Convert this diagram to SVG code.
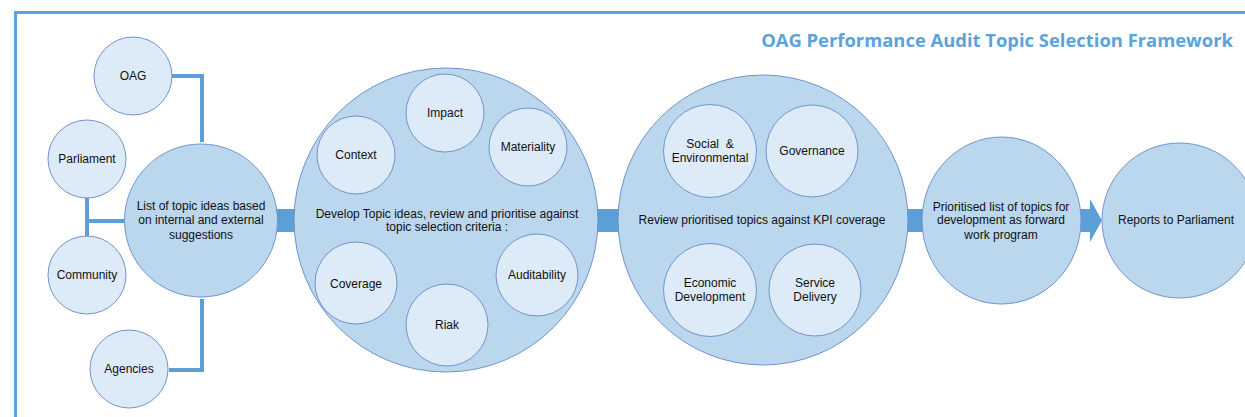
<svg xmlns="http://www.w3.org/2000/svg" width="1245" height="417" viewBox="0 0 1245 417">
  <style>
    .frame { fill: none; stroke: #5aa3db; stroke-width: 3; }
    .title { font-family: "Open Sans", "Liberation Sans", sans-serif; font-weight: 700; font-size: 18.4px; fill: #5aa3db; }
    .big { fill: #bad7ee; stroke: #7193cd; stroke-width: 1; }
    .small { fill: #ddeaf7; stroke: #7193cd; stroke-width: 1; }
    .lbl { font-family: "Liberation Sans", Arial, sans-serif; font-size: 12px; fill: #111; text-anchor: middle; }
    .link { fill: none; stroke: #5b9fd6; stroke-width: 4; stroke-linejoin: miter; }
    .band { fill: #5b9fd6; }
  </style>

  <!-- page frame -->
  <path class="frame" d="M15.5,417 V12.5 H1245"/>
  <text class="title" x="1233" y="47" text-anchor="end">OAG Performance Audit Topic Selection Framework</text>

  <!-- connectors -->
  <g id="connectors">
    <path class="link" d="M171,76 H202 V142"/>
    <path class="link" d="M87,198 V237"/>
    <path class="link" d="M87,221 H127"/>
    <path class="link" d="M169,370 H202 V299"/>
    <rect class="band" x="275" y="209" width="24" height="23"/>
    <rect class="band" x="594" y="209" width="26" height="23"/>
    <rect class="band" x="906" y="209" width="18" height="23"/>
    <path class="band" d="M1079,209 H1090 V199 L1102,220.5 L1090,242 V232 H1079 Z"/>
  </g>

  <!-- sources -->
  <g id="oag"><circle class="small" cx="133" cy="76" r="39"/><text class="lbl" x="133" y="80">OAG</text></g>
  <g id="parliament"><circle class="small" cx="87" cy="159" r="39"/><text class="lbl" x="87" y="163">Parliament</text></g>
  <g id="community"><circle class="small" cx="87" cy="275" r="39"/><text class="lbl" x="87" y="279">Community</text></g>
  <g id="agencies"><circle class="small" cx="129" cy="369" r="39"/><text class="lbl" x="129" y="373">Agencies</text></g>

  <!-- topic ideas list -->
  <g id="topic-list">
    <circle class="big" cx="201" cy="220.5" r="76.5"/>
    <text class="lbl" x="201" y="210">List of topic ideas based</text>
    <text class="lbl" x="201" y="224">on internal and external</text>
    <text class="lbl" x="201" y="239">suggestions</text>
  </g>

  <!-- selection criteria -->
  <g id="develop">
    <circle class="big" cx="446" cy="220" r="152"/>
    <text class="lbl" x="447" y="218">Develop Topic ideas, review and prioritise against</text>
    <text class="lbl" x="447" y="231">topic selection criteria :</text>
  </g>
  <g id="impact"><circle class="small" cx="445" cy="113" r="39"/><text class="lbl" x="445" y="117">Impact</text></g>
  <g id="materiality"><circle class="small" cx="528" cy="147" r="39"/><text class="lbl" x="528" y="151">Materiality</text></g>
  <g id="context"><circle class="small" cx="356" cy="155" r="39"/><text class="lbl" x="356" y="159">Context</text></g>
  <g id="coverage"><circle class="small" cx="356" cy="283" r="41"/><text class="lbl" x="356" y="288">Coverage</text></g>
  <g id="riak"><circle class="small" cx="447" cy="325" r="41"/><text class="lbl" x="447" y="329">Riak</text></g>
  <g id="auditability"><circle class="small" cx="537" cy="275" r="41"/><text class="lbl" x="537" y="279">Auditability</text></g>

  <!-- KPI coverage review -->
  <g id="review">
    <circle class="big" cx="763" cy="220" r="145"/>
    <text class="lbl" x="762" y="224">Review prioritised topics against KPI coverage</text>
  </g>
  <g id="social-environmental">
    <circle class="small" cx="710" cy="151" r="46.5"/>
    <text class="lbl" x="710" y="148" xml:space="preserve">Social  &amp;</text>
    <text class="lbl" x="710" y="162">Environmental</text>
  </g>
  <g id="governance"><circle class="small" cx="812" cy="151" r="46"/><text class="lbl" x="812" y="155">Governance</text></g>
  <g id="economic-development">
    <circle class="small" cx="710" cy="290" r="46.5"/>
    <text class="lbl" x="710" y="287">Economic</text>
    <text class="lbl" x="710" y="301">Development</text>
  </g>
  <g id="service-delivery">
    <circle class="small" cx="815" cy="290" r="46"/>
    <text class="lbl" x="815" y="287">Service</text>
    <text class="lbl" x="815" y="301">Delivery</text>
  </g>

  <!-- forward work program -->
  <g id="prioritised">
    <ellipse class="big" cx="1001.5" cy="220.5" rx="79.5" ry="83.5"/>
    <text class="lbl" x="1001" y="211">Prioritised list of topics for</text>
    <text class="lbl" x="1001" y="224">development as forward</text>
    <text class="lbl" x="1001" y="239">work program</text>
  </g>

  <!-- outcome -->
  <g id="reports">
    <circle class="big" cx="1179.5" cy="220.5" r="77.5"/>
    <text class="lbl" x="1176" y="224">Reports to Parliament</text>
  </g>
</svg>
